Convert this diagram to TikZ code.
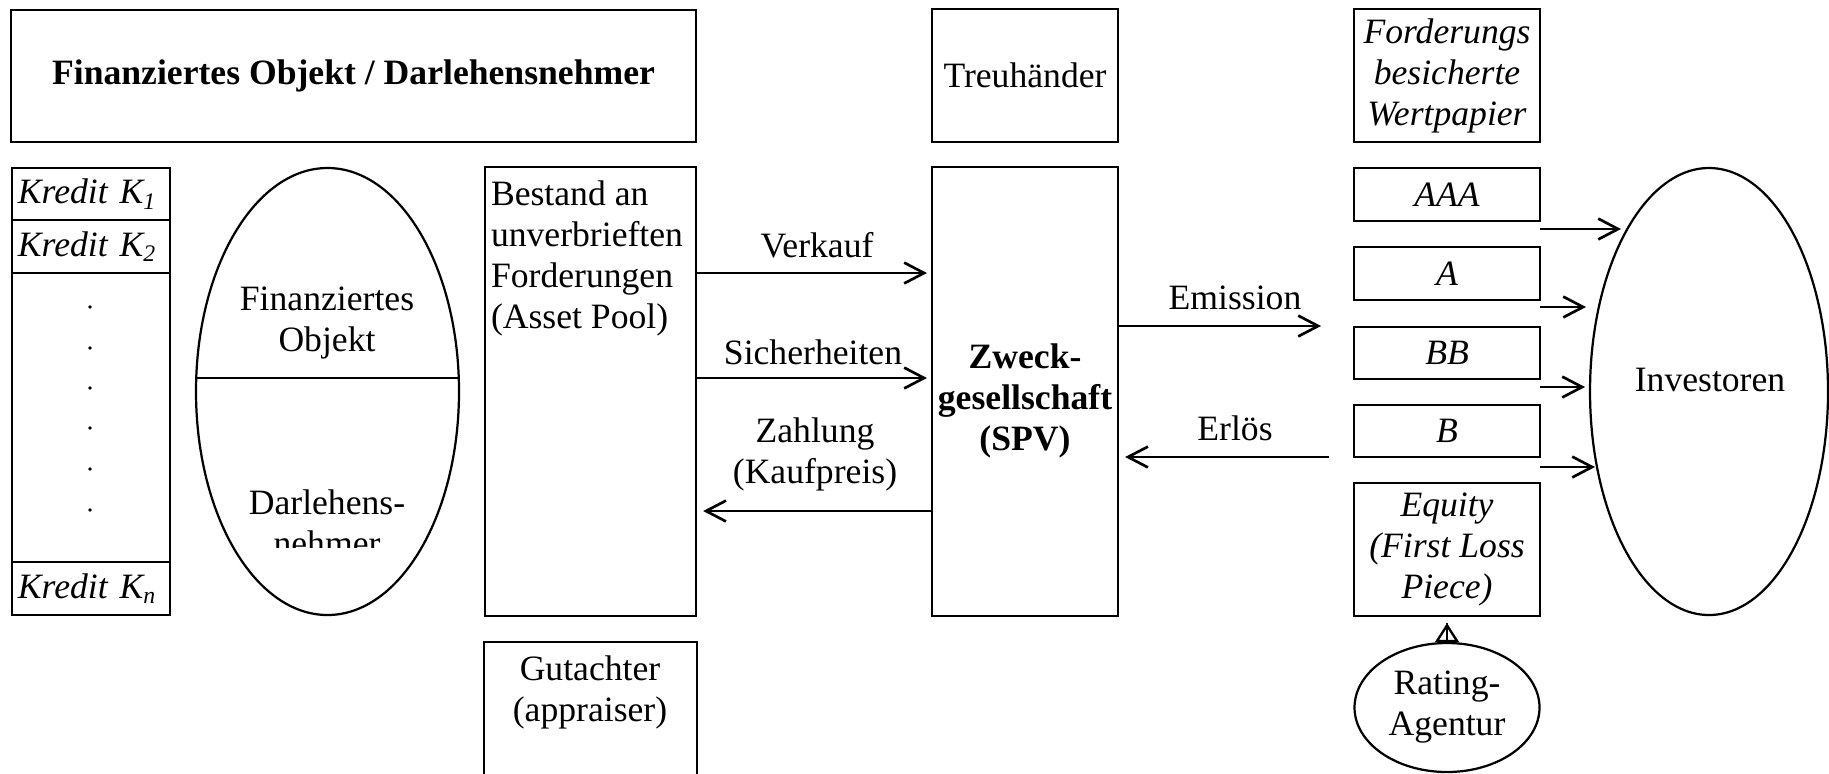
\documentclass[tikz,border=0pt]{standalone}
\usepackage{fontspec}
\setmainfont{Liberation Serif}
\usetikzlibrary{arrows.meta,shapes.geometric}
\def\PX{0.3367pt}
\newcommand{\myfs}{\fontsize{12pt}{13.8pt}\selectfont}
\begin{document}
\begin{tikzpicture}[x=0.3367pt, y=-0.3367pt,
  every node/.style={font=\myfs, inner sep=0pt, outer sep=0pt},
  box/.style={draw, line width=0.85pt, align=center},
  kcell/.style={box, font=\myfs\itshape, minimum width=158*\PX, text width=49.2pt, align=left, inner xsep=2pt},
  tranche/.style={box, font=\myfs\itshape, minimum width=186*\PX},
  oval/.style={draw, ellipse, line width=0.75pt, align=center},
  txt/.style={align=center},
  arr/.style={line width=0.9pt, -{Straight Barb[length=6.7pt, width=7pt]}},
]
\clip (0,0) rectangle (1829,773);

% top title box
\node[box, font=\myfs\bfseries, minimum width=685*\PX, minimum height=132*\PX] (top) at (353.5,76) {Finanziertes Objekt / Darlehensnehmer};

% credit column
\node[kcell, minimum height=52*\PX] (k1) at (91,194) {Kredit K\textsubscript{1}};
\node[kcell, minimum height=53*\PX] (k2) at (91,246.5) {Kredit K\textsubscript{2}};
\node[box, minimum width=158*\PX, minimum height=289*\PX] (kd) at (91,417.5) {};
\node[kcell, minimum height=53*\PX] (kn) at (91,588.5) {Kredit K\textsubscript{n}};
\foreach \yy in {307,348,388,428,469,510} \fill (90,\yy) circle[radius=0.65pt];

% financed object ellipse
\node[oval, minimum width=263*\PX, minimum height=447*\PX] (obj) at (327.5,391.5) {};
\draw[line width=0.75pt] (obj.center) ++(-131.2,-13.5) -- ++(262.4,0);
\node[txt] (objtxt) at (327,322.5) {Finanziertes\\Objekt};
\begin{scope}
\clip (190,470) rectangle (465,547);
\node[txt] (dntxt) at (327,522.5) {Darlehens-\\nehmer};
\end{scope}

% asset pool
\node[box, minimum width=211*\PX, minimum height=449*\PX] (pool) at (590.5,391.5) {};
\node[align=left, anchor=north west] (pooltxt) at (491,181) {Bestand an\\unverbrieften\\Forderungen\\(Asset Pool)};

% SPV
\node[box, minimum width=186*\PX, minimum height=449*\PX] (spv) at (1025,391.5) {};
\node[txt, font=\myfs\bfseries] (spvtxt) at (1025,401) {Zweck-\\gesellschaft\\(SPV)};

% Treuhaender
\node[box, minimum width=186*\PX, minimum height=133*\PX] (treu) at (1025,75.5) {Treuhänder};

% ABS column
\node[tranche, minimum height=133*\PX] (abs) at (1447,75.5) {Forderungs\\besicherte\\Wertpapier};
\node[tranche, minimum height=53*\PX] (aaa) at (1447,194.5) {AAA};
\node[tranche, minimum height=53*\PX] (ta) at (1447,273.5) {A};
\node[tranche, minimum height=52*\PX] (tbb) at (1447,353) {BB};
\node[tranche, minimum height=52*\PX] (tb) at (1447,431) {B};
\node[tranche, minimum height=133*\PX] (eq) at (1447,549.5) {Equity\\(First Loss\\Piece)};

% investors
\node[oval, minimum width=238*\PX, minimum height=447*\PX] (inv) at (1709,391.5) {};
\node (invtxt) at (1710,380) {Investoren};

% rating agency
\node[oval, minimum width=185*\PX, minimum height=129*\PX] (rat) at (1447,707.5) {Rating-\\Agentur};

% appraiser
\node[box, minimum width=213*\PX, minimum height=160*\PX, anchor=north] (gut) at (590.5,642) {};
\node[txt] (guttxt) at (590,692) {Gutachter\\(appraiser)};

% connector heights
\coordinate (yV) at (0,273);
\coordinate (yS) at (0,378);
\coordinate (yZ) at (0,511);
\coordinate (yE) at (0,326);
\coordinate (yR) at (0,457);
\coordinate (t1) at (1621,229);
\coordinate (t2) at (1586,307);
\coordinate (t3) at (1585,387);
\coordinate (t4) at (1595,467);

\draw[arr, shorten >=1.7pt] (pool.east |- yV) -- (spv.west |- yV) node at (817,245) {Verkauf};
\draw[line width=0.45pt, -{Straight Barb[length=6.7pt, width=7pt, line width=0.9pt]}, shorten >=1.7pt] (pool.east |- yS) -- (spv.west |- yS) node at (813,352) {Sicherheiten};
\draw[line width=0.9pt] (pool.east |- yS) -- ++(26,0);
\draw[arr, shorten >=2.4pt] (spv.west |- yZ) -- (pool.east |- yZ) node[txt] at (815,454) {Zahlung\\(Kaufpreis)};
\draw[arr, shorten >=11.1pt] (spv.east |- yE) -- (aaa.west |- yE) node at (1235,298) {Emission};
\draw[arr, shorten <=8.4pt, shorten >=2.4pt] (tb.west |- yR) -- (spv.east |- yR) node at (1235,428) {Erlös};

\draw[arr] (aaa.east |- t1) -- (t1);
\draw[arr] (ta.east |- t2) -- (t2);
\draw[arr] (tbb.east |- t3) -- (t3);
\draw[arr] (tb.east |- t4) -- (t4);

\draw[line width=0.8pt, -{Triangle[open, length=6.4pt, width=8pt]}, shorten >=2.4pt] (rat.north) -- (eq.south);
\draw[line width=0.8pt, shorten >=2.4pt] (rat.north) -- (eq.south);
\end{tikzpicture}
\end{document}
